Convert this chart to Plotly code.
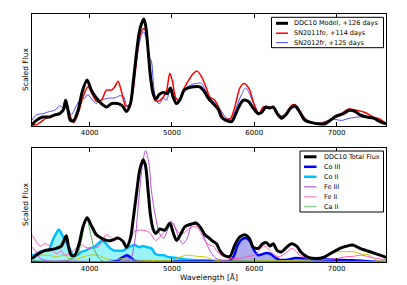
import plotly.graph_objects as go

# ---------------- top panel data ----------------
wl_model = [3300,3353,3434,3515,3576,3636,3677,3709,3738,3766,3807,3860,3912,3969,4021,4082,4143,4204,4265,4346,4398,4447,4496,4528,4569,4601,4629,4658,4682,4710,4739,4771,4804,4844,4893,4942,4982,5014,5055,5095,5148,5197,5258,5339,5391,5440,5501,5562,5602,5655,5724,5764,5805,5866,5926,5987,6048,6088,6141,6190,6230,6279,6332,6384,6441,6494,6547,6616,6697,6778,6859,6940,7000,7081,7154,7223,7284,7365,7446,7527,7600]
fx_model = [0.01,0.05,0.08,0.08,0.10,0.11,0.14,0.23,0.14,0.05,0.05,0.14,0.31,0.41,0.32,0.25,0.20,0.17,0.20,0.20,0.18,0.13,0.20,0.38,0.65,0.83,0.91,0.955,0.89,0.68,0.44,0.29,0.24,0.28,0.30,0.29,0.34,0.26,0.20,0.23,0.32,0.34,0.35,0.35,0.31,0.25,0.20,0.15,0.08,0.05,0.04,0.09,0.16,0.23,0.22,0.16,0.11,0.12,0.17,0.16,0.17,0.11,0.07,0.10,0.16,0.18,0.13,0.05,0.03,0.02,0.02,0.06,0.09,0.11,0.14,0.13,0.10,0.08,0.07,0.04,0.02]

wl_11fe = [3300,3353,3413,3474,3555,3616,3677,3717,3758,3807,3860,3920,3981,4034,4082,4143,4204,4265,4305,4346,4386,4439,4488,4528,4569,4609,4658,4690,4722,4750,4791,4832,4885,4933,4974,5006,5047,5087,5136,5197,5250,5306,5359,5412,5460,5521,5582,5631,5704,5764,5825,5878,5939,5995,6056,6109,6170,6230,6291,6344,6400,6465,6514,6575,6636,6717,6798,6879,6960,7041,7142,7243,7345,7446,7527,7600]
fx_11fe = [0.01,0.01,0.04,0.07,0.09,0.10,0.14,0.17,0.10,0.03,0.11,0.26,0.35,0.28,0.22,0.23,0.32,0.32,0.35,0.40,0.31,0.18,0.19,0.32,0.58,0.80,0.87,0.83,0.59,0.41,0.23,0.22,0.25,0.31,0.47,0.40,0.25,0.23,0.32,0.40,0.46,0.49,0.44,0.35,0.26,0.23,0.14,0.07,0.06,0.17,0.34,0.38,0.33,0.20,0.11,0.17,0.17,0.16,0.11,0.08,0.13,0.19,0.18,0.11,0.05,0.03,0.02,0.04,0.07,0.10,0.15,0.14,0.12,0.08,0.06,0.02]

wl_12fr = [3300,3353,3434,3515,3576,3636,3685,3738,3778,3831,3880,3941,3981,4034,4082,4123,4184,4245,4305,4366,4414,4455,4508,4548,4589,4629,4658,4690,4722,4750,4779,4812,4852,4893,4933,4974,5014,5055,5116,5177,5237,5298,5359,5412,5481,5541,5602,5663,5724,5785,5845,5898,5947,6008,6068,6149,6230,6311,6384,6453,6514,6575,6656,6757,6859,6960,7061,7162,7264,7365,7466,7547,7600]
fx_12fr = [0.05,0.10,0.11,0.13,0.14,0.18,0.16,0.15,0.10,0.17,0.23,0.25,0.28,0.23,0.20,0.23,0.24,0.25,0.25,0.27,0.26,0.17,0.23,0.47,0.68,0.81,0.84,0.77,0.62,0.58,0.35,0.22,0.20,0.25,0.23,0.31,0.26,0.20,0.28,0.34,0.37,0.38,0.38,0.31,0.23,0.20,0.13,0.07,0.07,0.17,0.28,0.34,0.28,0.17,0.11,0.16,0.16,0.09,0.11,0.16,0.16,0.10,0.05,0.02,0.04,0.06,0.05,0.07,0.08,0.08,0.06,0.03,0.02]

# ---------------- bottom panel data ----------------
wl_tot = [3300,3373,3454,3535,3596,3656,3689,3717,3745,3778,3819,3872,3920,3969,4021,4082,4143,4204,4265,4346,4406,4447,4496,4528,4569,4609,4650,4678,4710,4739,4771,4804,4852,4913,4974,5014,5055,5103,5156,5217,5298,5359,5400,5452,5501,5541,5582,5631,5704,5764,5825,5886,5939,5987,6048,6101,6149,6190,6230,6279,6332,6393,6453,6514,6575,6656,6757,6838,6940,7041,7122,7195,7284,7365,7446,7527,7600]
fx_tot = [0.03,0.07,0.10,0.11,0.12,0.14,0.19,0.23,0.13,0.06,0.06,0.16,0.31,0.39,0.32,0.24,0.21,0.19,0.19,0.21,0.18,0.13,0.21,0.37,0.60,0.81,0.90,0.85,0.63,0.41,0.29,0.25,0.29,0.28,0.34,0.26,0.19,0.24,0.31,0.33,0.34,0.29,0.24,0.21,0.18,0.16,0.10,0.06,0.05,0.15,0.22,0.24,0.21,0.13,0.12,0.16,0.17,0.14,0.16,0.10,0.09,0.13,0.16,0.14,0.08,0.04,0.03,0.04,0.08,0.12,0.14,0.15,0.12,0.10,0.08,0.06,0.04]

wl_co3 = [3300,4300,4400,4450,4500,4550,4700,5000,5500,5700,5750,5800,5850,5900,5950,6000,6050,6100,6150,6200,6250,6300,6400,6500,6600,6800,7000,7200,7400,7600]
fx_co3 = [0.0,0.005,0.04,0.06,0.04,0.01,0.005,0.005,0.005,0.01,0.05,0.15,0.20,0.21,0.18,0.10,0.06,0.07,0.08,0.07,0.04,0.02,0.02,0.035,0.03,0.025,0.02,0.015,0.005,0.0]

wl_co2 = [3300,3350,3400,3450,3500,3550,3600,3625,3650,3700,3750,3800,3850,3900,3950,4000,4050,4100,4150,4200,4250,4300,4350,4400,4450,4500,4550,4600,4650,4700,4750,4800,4850,4900,4950,5000,5100,5200,5400,5600,6000,7600]
fx_co2 = [0.06,0.07,0.09,0.10,0.10,0.19,0.26,0.285,0.26,0.19,0.13,0.06,0.06,0.09,0.10,0.12,0.13,0.16,0.19,0.16,0.12,0.10,0.10,0.10,0.12,0.14,0.15,0.13,0.14,0.13,0.12,0.07,0.06,0.06,0.045,0.04,0.03,0.02,0.015,0.01,0.005,0.0]

wl_fe3 = [3300,3350,3400,3500,3700,4000,4300,4450,4500,4550,4600,4650,4680,4720,4750,4800,4850,4900,4950,4990,5030,5080,5130,5180,5230,5280,5320,5370,5420,5470,5520,5600,5700,6500,7600]
fx_fe3 = [0.13,0.09,0.03,0.01,0.01,0.005,0.005,0.01,0.03,0.19,0.57,0.90,0.98,0.87,0.63,0.40,0.25,0.21,0.29,0.36,0.32,0.22,0.16,0.20,0.31,0.36,0.34,0.26,0.16,0.09,0.04,0.015,0.005,0.005,0.005]

wl_fe2 = [3300,3350,3400,3450,3500,3550,3600,3650,3700,3750,3800,3850,3900,3950,4000,4050,4100,4150,4200,4250,4300,4350,4400,4450,4500,4550,4600,4650,4700,4750,4800,4850,4900,4950,5000,5050,5100,5150,5200,5250,5300,5350,5400,5450,5500,5550,5600,5700,5800,5900,6000,6050,6100,6150,6200,6250,6300,6400,6450,6500,6550,6650,6800,7000,7100,7200,7300,7400,7500,7600]
fx_fe2 = [0.24,0.18,0.14,0.16,0.15,0.10,0.07,0.10,0.06,0.07,0.10,0.13,0.15,0.13,0.12,0.13,0.13,0.18,0.24,0.22,0.19,0.22,0.19,0.12,0.22,0.27,0.28,0.28,0.27,0.24,0.19,0.22,0.26,0.31,0.34,0.29,0.25,0.26,0.29,0.31,0.31,0.26,0.19,0.15,0.14,0.09,0.06,0.03,0.03,0.045,0.06,0.09,0.14,0.13,0.09,0.06,0.045,0.09,0.12,0.10,0.06,0.03,0.02,0.03,0.045,0.05,0.06,0.045,0.03,0.02]

wl_ca2 = [3300,3700,3780,3850,3900,3950,3970,4000,4050,4100,4150,4300,5000,7600]
fx_ca2 = [0.01,0.01,0.03,0.06,0.19,0.37,0.37,0.29,0.13,0.045,0.01,0.005,0.005,0.005]

wl_oth = [3300,3350,3400,3500,3600,3700,3750,3800,3900,4000,4100,4200,4300,4400,4500,4700,5000,5100,5200,5300,5400,5500,5600,6000,6800,6900,7000,7100,7200,7300,7400,7450,7500,7600]
fx_oth = [0.03,0.06,0.06,0.06,0.045,0.06,0.03,0.02,0.04,0.06,0.06,0.03,0.02,0.03,0.02,0.015,0.015,0.045,0.06,0.05,0.045,0.02,0.01,0.01,0.03,0.07,0.09,0.09,0.09,0.07,0.06,0.03,0.01,0.01]

x_ticks = [4000, 5000, 6000, 7000]
x_range = [3300, 7600]

top_legend = [("DDC10 Model, +126 days", "#000000", 3.0),
              ("SN2011fe, +114 days", "#ff0000", 1.5),
              ("SN2012fr, +125 days", "#4b4bff", 1.0)]
bot_legend = [("DDC10 Total Flux", "#000000", 3.0),
              ("Co III", "#0000ff", 2.5),
              ("Co II", "#00bfff", 2.5),
              ("Fe III", "#c080f0", 1.5),
              ("Fe II", "#ff99cc", 1.5),
              ("Ca II", "#90d090", 1.5)]

fig = go.Figure()

def add(x, y, color, width, name, panel, fill=None, fillcolor=None):
    fig.add_trace(go.Scatter(
        x=x, y=y, mode="lines", name=name,
        line=dict(color=color, width=width, shape="spline", smoothing=0.8),
        xaxis="x" if panel == 1 else "x2", yaxis="y" if panel == 1 else "y2",
        showlegend=False, fill=fill, fillcolor=fillcolor,
    ))

# top panel
add(wl_12fr, fx_12fr, "#4b4bff", 1.0, "SN2012fr, +125 days", 1)
add(wl_11fe, fx_11fe, "#ff0000", 1.5, "SN2011fe, +114 days", 1)
add(wl_model, fx_model, "#000000", 3.0, "DDC10 Model, +126 days", 1)

# bottom panel
add(wl_co2, fx_co2, "#00bfff", 2.5, "Co II", 2, fill="tozeroy", fillcolor="rgba(0,225,235,0.4)")
add(wl_co3, fx_co3, "#0000ff", 2.5, "Co III", 2, fill="tozeroy", fillcolor="rgba(70,70,220,0.45)")
add(wl_oth, fx_oth, "#c8c800", 1.0, "other", 2)
add(wl_ca2, fx_ca2, "#4caf50", 1.0, "Ca II", 2)
add(wl_fe2, fx_fe2, "#ff55b0", 1.0, "Fe II", 2)
add(wl_fe3, fx_fe3, "#b050e0", 1.0, "Fe III", 2)
add(wl_tot, fx_tot, "#000000", 3.0, "DDC10 Total Flux", 2)

# ---- figure geometry (figure sits 8px inside the page because of body margin) ----
OFF = 8
W, H = 407 - OFF, 285 - OFF
PL, PR, PT, PB = 32, 386, 14, 262   # plot area in page pixels
ml, mr, mt, mb = PL - OFF, W - (PR - OFF), PT - OFF, H - (PB - OFF)
pw, ph = PR - PL, PB - PT

def px(sx):
    return (sx - PL) / pw

def py(sy):
    return (PB - sy) / ph

shapes, annotations = [], []

def legend(entries, box, line_x, text_x, row_y):
    x0, y0, x1, y1 = box
    shapes.append(dict(type="rect", xref="paper", yref="paper",
                       x0=px(x0), x1=px(x1), y0=py(y1), y1=py(y0),
                       line=dict(color="black", width=1), fillcolor="white", layer="above"))
    for (name, color, width), yy in zip(entries, row_y):
        shapes.append(dict(type="line", xref="paper", yref="paper",
                           x0=px(line_x[0]), x1=px(line_x[1]), y0=py(yy), y1=py(yy),
                           line=dict(color=color, width=width), layer="above"))
        annotations.append(dict(text=name, xref="paper", yref="paper", x=px(text_x), y=py(yy),
                                xanchor="left", yanchor="middle", showarrow=False,
                                font=dict(size=6.5, color="black", family="DejaVu Sans")))

legend(top_legend, (271.5, 17.3, 383.5, 47.7), (276, 288), 292, [23.3, 33.2, 42.6])
legend(bot_legend, (300, 151, 383.5, 212), (304, 316.5), 321.5, [156.8, 166.8, 176.8, 186.8, 196.8, 206.6])

# axis titles
for cy in (70, 205):
    annotations.append(dict(text="Scaled Flux", xref="paper", yref="paper", x=px(25), y=py(cy),
                            textangle=-90, xanchor="center", yanchor="middle", showarrow=False,
                            font=dict(size=7.5, color="black", family="DejaVu Sans")))
annotations.append(dict(text="Wavelength [Å]", xref="paper", yref="paper", x=px(209), y=py(277.5),
                        xanchor="center", yanchor="middle", showarrow=False,
                        font=dict(size=7.5, color="black", family="DejaVu Sans")))

axis_common = dict(
    range=x_range, tickvals=x_ticks, ticks="inside", ticklen=4, tickcolor="black",
    showline=True, linecolor="black", linewidth=1, mirror="ticks",
    showgrid=False, zeroline=False, tickfont=dict(size=7, color="black", family="DejaVu Sans"),
)
yaxis_common = dict(
    range=[0, 1], showticklabels=False, ticks="", showline=True, linecolor="black",
    linewidth=1, mirror=True, showgrid=False, zeroline=False,
)

fig.update_layout(
    width=W, height=H,
    margin=dict(l=ml, r=mr, t=mt, b=mb, pad=0),
    paper_bgcolor="white", plot_bgcolor="white",
    font=dict(family="DejaVu Sans", size=7, color="black"),
    xaxis=dict(axis_common, domain=[0, 1], anchor="y"),
    yaxis=dict(yaxis_common, domain=[py(126), 1], anchor="x"),
    xaxis2=dict(axis_common, domain=[0, 1], anchor="y2"),
    yaxis2=dict(yaxis_common, domain=[0, py(148.3)], anchor="x2"),
    showlegend=False,
    shapes=shapes, annotations=annotations,
)

fig.write_html("out.html")
